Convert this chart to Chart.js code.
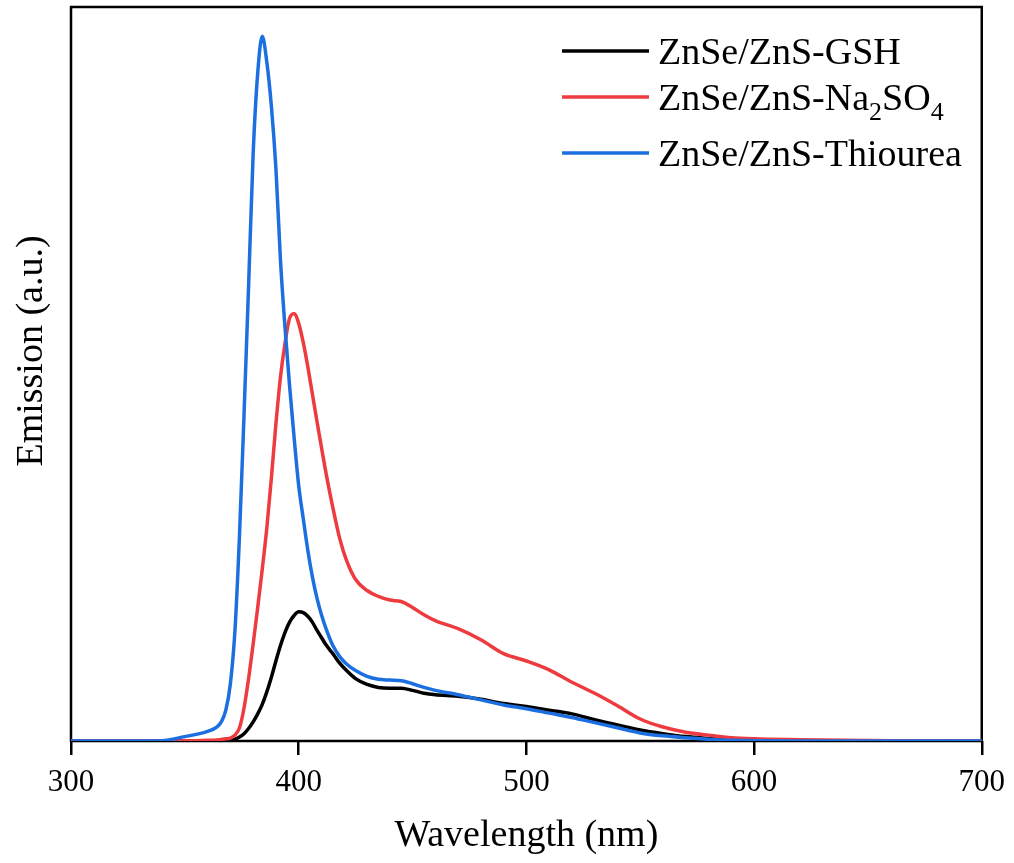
<!DOCTYPE html>
<html>
<head>
<meta charset="utf-8">
<script src="https://cdn.jsdelivr.net/npm/chart.js@4/dist/chart.umd.min.js"></script>
<style>
  html, body { margin: 0; padding: 0; background: #fff; }
  canvas { display: block; }
</style>
</head>
<body>
<canvas id="pl" width="1014" height="863"></canvas>
<script>
// emission spectra, wavelength in nm
const wavelengths = [300, 320, 340, 350, 355, 360, 364, 366, 368, 370, 372, 374, 376, 378, 380, 382, 384, 386, 388, 390,
  392, 394, 396, 398, 400, 402, 404, 406, 408, 410, 412, 415, 418, 421, 425, 430, 435, 440, 445, 450,
  455, 460, 470, 480, 490, 500, 510, 520, 530, 540, 550, 560, 570, 580, 590, 600, 620, 640, 660, 700];

const gshValues = [0, 0, 0, 0, 0, 0, 0, 0, 0.05, 0.1, 0.25, 0.55, 1.0, 1.7, 2.6, 3.7, 5.0, 6.7, 8.7, 10.9,
  13.0, 14.8, 16.2, 17.1, 17.6, 17.5, 17.0, 16.2, 15.1, 14.1, 13.1, 11.9, 10.6, 9.6, 8.5, 7.7, 7.3, 7.2, 7.2, 6.9,
  6.5, 6.3, 6.1, 5.7, 5.1, 4.7, 4.2, 3.7, 2.9, 2.2, 1.5, 1.0, 0.6, 0.35, 0.15, 0.08, 0.02, 0, 0, 0];

const na2so4Values = [0, 0, 0, 0.02, 0.05, 0.1, 0.15, 0.2, 0.3, 0.4, 0.8, 1.8, 4.5, 8.5, 13.2, 18.2, 23.4, 29.0, 35.8, 43.2,
  49.6, 54.2, 57.6, 58.2, 56.9, 54.3, 51.0, 47.3, 43.6, 40.0, 36.5, 31.8, 27.6, 24.6, 22.0, 20.5, 19.7, 19.2, 19.0, 18.2,
  17.2, 16.4, 15.3, 13.8, 11.9, 10.9, 9.7, 8.0, 6.5, 4.8, 3.0, 1.9, 1.2, 0.8, 0.45, 0.3, 0.18, 0.1, 0.05, 0];

const thioureaValues = [0, 0, 0.05, 0.6, 0.9, 1.3, 1.9, 2.6, 4.2, 7.8, 15.0, 28.0, 44.5, 62.0, 80.0, 91.0, 96.0, 92.5, 86.5, 78.0,
  65.5, 56.3, 48.4, 41.3, 34.8, 30.3, 26.0, 22.4, 19.5, 17.2, 15.3, 13.0, 11.5, 10.5, 9.6, 8.8, 8.4, 8.3, 8.2, 7.8,
  7.3, 6.9, 6.3, 5.6, 4.9, 4.4, 3.8, 3.2, 2.5, 1.8, 1.1, 0.7, 0.45, 0.25, 0.1, 0.05, 0, 0, 0, 0];

const seriesNames = ['ZnSe/ZnS-GSH', 'ZnSe/ZnS-Na₂SO₄', 'ZnSe/ZnS-Thiourea'];
const seriesColors = ['#000000', '#EE3B3F', '#1C6FE0'];
const xTicks = [300, 400, 500, 600, 700];

const SERIF = "'Liberation Serif', 'Times New Roman', serif";
const SUBS = '₀₁₂₃₄₅₆₇₈₉';

function pts(vals) {
  return wavelengths.map((w, i) => ({ x: w, y: vals[i] }));
}

// split a label into normal / subscript runs
function runs(text) {
  const out = [];
  for (const ch of text) {
    const k = SUBS.indexOf(ch);
    const sub = k >= 0;
    const c = sub ? String(k) : ch;
    if (out.length && out[out.length - 1].sub === sub) out[out.length - 1].t += c;
    else out.push({ t: c, sub: sub });
  }
  return out;
}

const framePlugin = {
  id: 'frame',
  beforeDatasetsDraw(chart) {
    const { ctx, chartArea: a } = chart;
    ctx.save();
    ctx.strokeStyle = '#000';
    ctx.lineWidth = 2.5;
    ctx.strokeRect(a.left, a.top, a.right - a.left, a.bottom - a.top);
    ctx.restore();
  }
};

const yTitlePlugin = {
  id: 'yTitle',
  afterDraw(chart) {
    const ctx = chart.ctx;
    ctx.save();
    ctx.translate(42, 351);
    ctx.rotate(-Math.PI / 2);
    ctx.font = '38px ' + SERIF;
    ctx.fillStyle = '#000';
    ctx.textAlign = 'center';
    ctx.textBaseline = 'alphabetic';
    ctx.fillText('Emission (a.u.)', 0, 0);
    ctx.restore();
  }
};

const legendPlugin = {
  id: 'richLegend',
  afterDraw(chart) {
    const ctx = chart.ctx;
    let base = 64;
    ctx.save();
    chart.data.datasets.forEach(ds => {
      ctx.strokeStyle = ds.borderColor;
      ctx.lineWidth = 3.5;
      ctx.beginPath();
      ctx.moveTo(562, base - 13);
      ctx.lineTo(649, base - 13);
      ctx.stroke();

      ctx.fillStyle = '#000';
      ctx.textBaseline = 'alphabetic';
      ctx.textAlign = 'left';
      let x = 658;
      const parts = runs(ds.label);
      parts.forEach(p => {
        ctx.font = (p.sub ? '26px ' : '38px ') + SERIF;
        ctx.fillText(p.t, x, p.sub ? base + 10 : base);
        x += ctx.measureText(p.t).width;
      });
      base += parts.some(p => p.sub) ? 56 : 46;
    });
    ctx.restore();
  }
};

new Chart(document.getElementById('pl'), {
  type: 'line',
  data: {
    datasets: [
      { label: seriesNames[0], data: pts(gshValues), borderColor: seriesColors[0], order: 2 },
      { label: seriesNames[1], data: pts(na2so4Values), borderColor: seriesColors[1], order: 1 },
      { label: seriesNames[2], data: pts(thioureaValues), borderColor: seriesColors[2], order: 0 }
    ]
  },
  options: {
    responsive: false,
    devicePixelRatio: 1,
    animation: false,
    layout: { padding: { left: 71, right: 32, top: 7, bottom: 0 } },
    elements: {
      point: { radius: 0 },
      line: { borderWidth: 3.5, cubicInterpolationMode: 'monotone', fill: false }
    },
    plugins: { legend: { display: false }, tooltip: { enabled: false } },
    scales: {
      x: {
        type: 'linear',
        min: 300,
        max: 700,
        afterBuildTicks: s => { s.ticks = xTicks.map(v => ({ value: v })); },
        afterFit: s => { s.height = 122; },
        border: { display: false },
        grid: { drawOnChartArea: false, drawTicks: true, tickLength: 14, color: '#000', lineWidth: 2.5 },
        ticks: { color: '#000', padding: 9, maxRotation: 0, font: { family: SERIF, size: 31 } },
        title: { display: true, text: 'Wavelength (nm)', color: '#000', padding: { top: 0, bottom: 4 },
          font: { family: SERIF, size: 38 } }
      },
      y: { display: false, min: 0, max: 100 }
    }
  },
  plugins: [framePlugin, yTitlePlugin, legendPlugin]
});
</script>
</body>
</html>
